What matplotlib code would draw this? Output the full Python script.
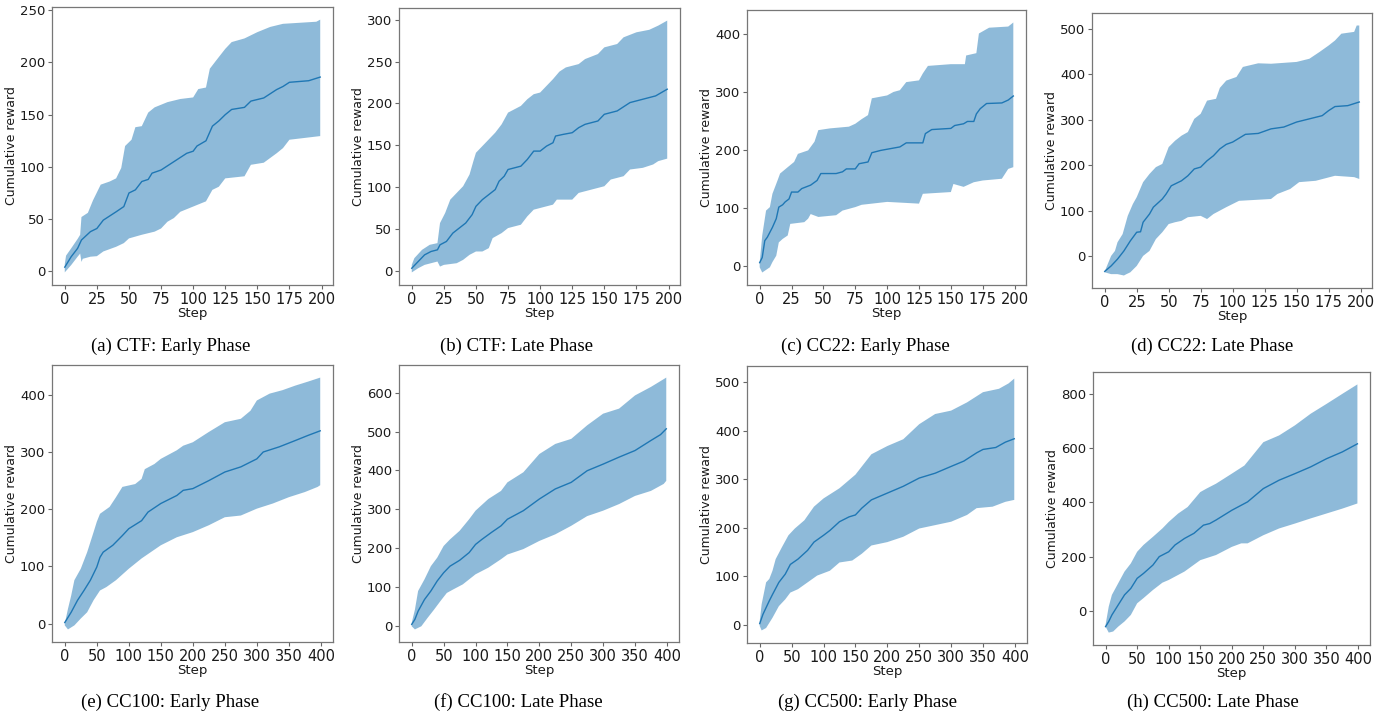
import numpy as np
import matplotlib
matplotlib.use("Agg")
import matplotlib.pyplot as plt
from matplotlib.ticker import MultipleLocator

W, H = 1383, 715

# ---- (a) CTF: Early Phase
a_mean_x = [0, 5, 10, 13, 20, 25, 30, 40, 46, 50, 55, 60, 65, 68, 75, 85, 95, 100, 103, 110, 115, 120, 125, 130, 140, 145, 155, 160, 165, 170, 175, 190, 199]
a_mean_y = [4, 14, 22, 30, 38, 41, 49, 57, 62, 75, 78, 86, 88, 94, 97, 105, 113, 115, 120, 125, 139, 144, 150, 155, 157, 163, 166, 170, 174, 177, 181, 182.5, 186]
a_up_x = [0, 1, 5, 10, 12, 13, 18, 22, 28, 35, 40, 44, 47, 52, 55, 60, 65, 70, 80, 90, 100, 104, 110, 113, 118, 125, 130, 140, 150, 160, 170, 196, 199]
a_up_y = [7, 15, 22, 31, 35, 52, 56, 68, 83, 86, 89, 99, 120, 126, 138, 139, 152, 157, 162, 165, 166.5, 174.5, 176, 194, 202, 213, 219.5, 223, 229, 234, 237, 239, 241]
a_lo_x = [0, 5, 10, 12, 13, 14, 20, 25, 30, 40, 46, 50, 60, 70, 75, 80, 85, 90, 100, 110, 115, 120, 125, 140, 145, 155, 165, 170, 175, 199]
a_lo_y = [-1, 6, 14, 17, 9, 12, 14, 14.5, 19, 23.5, 27, 31.5, 35, 38, 41, 47.5, 51, 57, 62, 67, 78, 81, 89, 91, 102, 104, 113, 118, 126, 129.5]

# ---- (b) CTF: Late Phase
b_mean_x = [0, 5, 10, 15, 20, 22, 27, 32, 37, 42, 47, 50, 55, 60, 65, 68, 72, 75, 85, 90, 95, 100, 105, 110, 112, 118, 125, 130, 135, 145, 150, 160, 170, 180, 190, 199]
b_mean_y = [3, 11, 19, 23, 25, 31, 35, 45, 51, 57, 67, 77, 85, 91, 97, 107, 113, 121, 125, 133, 143, 143, 149, 153, 161, 163, 165, 171, 175, 179, 187, 191, 201, 205, 209, 217]
b_up_x = [0, 2, 8, 14, 20, 22, 26, 30, 35, 40, 45, 48, 50, 55, 60, 65, 70, 75, 80, 85, 90, 95, 100, 105, 110, 115, 120, 130, 135, 145, 150, 160, 165, 175, 185, 192, 199]
b_up_y = [7, 15, 25, 31, 33, 57, 69, 85, 93, 101, 115, 131, 141, 149, 157, 165, 175, 189, 193, 197, 205, 211, 213, 221, 229, 238, 243, 247, 253, 259, 267, 271, 279, 285, 288, 293, 299]
b_lo_x = [0, 5, 10, 20, 22, 25, 35, 40, 45, 50, 55, 60, 63, 70, 75, 85, 90, 95, 105, 110, 113, 125, 130, 140, 150, 155, 165, 170, 180, 188, 192, 199]
b_lo_y = [-2, 3, 7, 11, 5, 7, 9, 13, 19, 23, 23, 27, 39, 45, 51, 55, 65, 73, 77, 79, 85, 85, 93, 97, 101, 109, 113, 121, 123, 127, 131, 134]

# ---- (c) CC22: Early Phase
c_mean_x = [0, 2, 4, 6, 10, 13, 15, 18, 20, 23, 25, 30, 33, 40, 45, 48, 60, 65, 68, 75, 78, 85, 88, 95, 100, 110, 115, 128, 130, 135, 150, 153, 160, 163, 168, 170, 173, 178, 190, 195, 199]
c_mean_y = [5, 14, 43, 49, 66, 81, 101, 105, 110, 115, 127, 127, 133, 139, 147, 159, 159, 162, 167, 167, 176, 179, 195, 199, 201, 205, 212, 212, 228, 235, 237, 242, 245, 249, 249, 262, 271, 280, 281, 286, 293]
c_up_x = [0, 2, 5, 8, 10, 14, 16, 22, 27, 30, 38, 43, 46, 55, 70, 75, 80, 85, 88, 100, 105, 110, 115, 125, 128, 132, 150, 161, 162, 170, 172, 180, 195, 199]
c_up_y = [5, 52, 95, 101, 124, 147, 159, 170, 179, 193, 199, 214, 234, 237, 240, 245, 253, 260, 289, 294, 300, 303, 317, 320, 332, 345, 348, 348, 363, 367, 401, 411, 413, 420]
c_lo_x = [0, 2, 8, 10, 13, 15, 18, 22, 24, 35, 38, 40, 46, 60, 65, 75, 80, 100, 125, 128, 150, 152, 160, 168, 175, 190, 195, 199]
c_lo_y = [-3, -12, -3, 6, 17, 40, 46, 52, 72, 75, 81, 89, 84, 87, 95, 101, 105, 110, 107, 124, 127, 141, 136, 144, 147, 150, 167, 170]

# ---- (d) CC22: Late Phase
d_mean_x = [0, 5, 10, 15, 20, 25, 28, 30, 35, 38, 45, 48, 52, 60, 65, 70, 75, 80, 85, 90, 95, 100, 110, 120, 130, 140, 150, 160, 170, 175, 180, 190, 199]
d_mean_y = [-33, -21, -6, 12, 34, 53, 54, 75, 93, 108, 126, 137, 155, 166, 177, 192, 196, 210, 221, 236, 246, 251, 268, 270, 280, 284, 295, 302, 309, 320, 329, 331, 339]
d_up_x = [0, 5, 8, 10, 14, 18, 22, 25, 30, 35, 40, 45, 50, 55, 60, 65, 70, 75, 80, 87, 90, 95, 103, 108, 120, 130, 150, 160, 168, 175, 180, 185, 195, 197, 199]
d_up_y = [-33, 1, 12, 31, 49, 89, 115, 130, 163, 181, 196, 203, 240, 254, 265, 273, 302, 313, 342, 346, 370, 386, 394, 416, 424, 423, 427, 434, 449, 463, 474, 489, 493, 507, 507]
d_lo_x = [0, 5, 10, 15, 17, 20, 25, 30, 35, 40, 45, 50, 55, 60, 65, 75, 80, 85, 95, 105, 130, 135, 145, 152, 165, 180, 195, 199]
d_lo_y = [-35, -39, -39, -42, -39, -35, -21, 1, 12, 38, 53, 71, 75, 78, 86, 89, 82, 93, 108, 122, 126, 137, 148, 163, 166, 177, 174, 170]

# ---- (e) CC100: Early Phase
e_mean_x = [0, 10, 20, 30, 40, 50, 55, 60, 75, 90, 100, 120, 130, 150, 175, 185, 200, 225, 250, 275, 300, 310, 335, 360, 380, 399]
e_mean_y = [2, 20, 41, 58, 76, 99, 116, 125, 137, 154, 166, 180, 195, 210, 224, 233, 236, 250, 265, 274, 288, 300, 309, 320, 329, 337]
e_up_x = [0, 5, 10, 15, 25, 35, 45, 50, 55, 70, 80, 90, 110, 120, 125, 140, 150, 175, 185, 200, 225, 250, 275, 290, 300, 320, 340, 360, 380, 399]
e_up_y = [0, 26, 49, 76, 96, 125, 160, 178, 192, 204, 221, 239, 244, 253, 270, 279, 288, 303, 311, 317, 335, 352, 358, 372, 390, 402, 408, 416, 423, 430]
e_lo_x = [0, 5, 15, 25, 35, 45, 55, 65, 80, 100, 120, 150, 175, 200, 225, 250, 275, 300, 325, 350, 375, 395, 399]
e_lo_y = [-3, -10, -3, 9, 20, 41, 58, 64, 76, 96, 114, 137, 151, 160, 172, 186, 189, 201, 210, 221, 230, 239, 242]

# ---- (f) CC100: Late Phase
f_mean_x = [0, 5, 10, 20, 30, 40, 50, 60, 75, 90, 100, 110, 125, 140, 150, 175, 200, 225, 250, 275, 300, 325, 350, 375, 390, 399]
f_mean_y = [3, 16, 37, 67, 89, 115, 136, 153, 168, 188, 209, 222, 240, 257, 274, 296, 326, 352, 369, 399, 416, 434, 451, 477, 492, 507]
f_up_x = [0, 5, 10, 20, 30, 40, 50, 60, 75, 90, 100, 120, 140, 150, 175, 200, 225, 250, 275, 300, 325, 350, 375, 399]
f_up_y = [7, 41, 89, 119, 153, 175, 205, 222, 244, 274, 296, 326, 347, 369, 395, 442, 468, 481, 516, 546, 559, 593, 615, 639]
f_lo_x = [0, 5, 15, 25, 35, 45, 55, 65, 80, 100, 120, 140, 150, 175, 200, 225, 250, 275, 300, 325, 350, 375, 395, 399]
f_lo_y = [-2, -10, -2, 20, 41, 63, 84, 93, 106, 132, 149, 171, 183, 197, 218, 235, 257, 282, 296, 313, 334, 347, 365, 373]

# ---- (g) CC500: Early Phase
g_mean_x = [0, 5, 10, 15, 20, 30, 40, 48, 60, 75, 85, 100, 110, 125, 140, 150, 160, 175, 200, 225, 250, 275, 300, 320, 340, 350, 370, 385, 399]
g_mean_y = [2, 21, 35, 49, 62, 87, 104, 124, 135, 153, 170, 184, 194, 212, 222, 226, 240, 257, 271, 285, 302, 312, 326, 337, 354, 361, 365, 376, 383]
g_up_x = [0, 3, 10, 15, 20, 25, 35, 45, 55, 70, 85, 100, 125, 150, 175, 200, 225, 250, 275, 300, 325, 350, 375, 390, 399]
g_up_y = [7, 42, 87, 94, 111, 135, 160, 184, 198, 215, 243, 260, 281, 309, 351, 368, 382, 413, 434, 441, 458, 479, 486, 497, 507]
g_lo_x = [0, 3, 10, 20, 30, 40, 48, 60, 75, 90, 110, 125, 145, 160, 175, 200, 225, 250, 275, 300, 325, 340, 365, 385, 399]
g_lo_y = [-3, -12, -7, 14, 38, 52, 66, 73, 87, 101, 111, 128, 132, 146, 163, 170, 181, 198, 205, 212, 226, 240, 243, 253, 257]

# ---- (h) CC500: Late Phase
h_mean_x = [0, 5, 10, 20, 30, 40, 50, 60, 75, 85, 100, 110, 125, 140, 155, 165, 175, 200, 225, 250, 275, 300, 325, 350, 375, 399]
h_mean_y = [-58, -39, -15, 22, 59, 83, 120, 138, 169, 200, 218, 243, 267, 286, 316, 322, 335, 371, 402, 451, 482, 506, 531, 561, 586, 616]
h_up_x = [0, 5, 10, 20, 30, 40, 50, 60, 75, 90, 100, 115, 130, 150, 160, 175, 200, 220, 235, 250, 275, 300, 325, 350, 375, 399]
h_up_y = [-51, 16, 59, 102, 145, 175, 218, 243, 273, 304, 328, 359, 383, 438, 451, 469, 506, 536, 579, 622, 647, 684, 727, 763, 800, 835]
h_lo_x = [0, 5, 12, 20, 30, 40, 50, 60, 75, 90, 100, 125, 150, 175, 200, 215, 225, 250, 275, 300, 325, 350, 375, 399]
h_lo_y = [-58, -80, -76, -58, -39, -15, 28, 47, 77, 104, 114, 145, 187, 206, 236, 249, 249, 279, 304, 322, 341, 359, 377, 396]

captions = ["(a) CTF: Early Phase", "(b) CTF: Late Phase", "(c) CC22: Early Phase", "(d) CC22: Late Phase",
            "(e) CC100: Early Phase", "(f) CC100: Late Phase", "(g) CC500: Early Phase", "(h) CC500: Late Phase"]
x_steps = [25, 25, 25, 25, 50, 50, 50, 50]

panels = [
    (a_mean_x, a_mean_y, a_up_x, a_up_y, a_lo_x, a_lo_y),
    (b_mean_x, b_mean_y, b_up_x, b_up_y, b_lo_x, b_lo_y),
    (c_mean_x, c_mean_y, c_up_x, c_up_y, c_lo_x, c_lo_y),
    (d_mean_x, d_mean_y, d_up_x, d_up_y, d_lo_x, d_lo_y),
    (e_mean_x, e_mean_y, e_up_x, e_up_y, e_lo_x, e_lo_y),
    (f_mean_x, f_mean_y, f_up_x, f_up_y, f_lo_x, f_lo_y),
    (g_mean_x, g_mean_y, g_up_x, g_up_y, g_lo_x, g_lo_y),
    (h_mean_x, h_mean_y, h_up_x, h_up_y, h_lo_x, h_lo_y),
]

# axes boxes in pixels: left, right, top, bottom
boxes = [(52, 333, 7, 285), (399, 680, 8, 285), (747, 1026, 10, 285), (1092, 1372, 13, 288),
         (52, 333, 365, 642), (399, 679, 365, 642), (747, 1027, 366, 643), (1093, 1370, 372, 645)]
cap_pos = [(171, 346), (517, 346), (865, 346), (1212, 346),
           (170, 702), (518, 702), (867, 702), (1213, 702)]

fig = plt.figure(figsize=(W / 100, H / 100), dpi=100)
blue = "#1f77b4"

for i, (mx, my, ux, uy, lx, ly) in enumerate(panels):
    l, r, t, b = boxes[i]
    ax = fig.add_axes([l / W, 1 - b / H, (r - l) / W, (b - t) / H])
    ax.fill(np.r_[ux, lx[::-1]], np.r_[uy, ly[::-1]], color=blue, alpha=0.5, lw=0)
    ax.plot(mx, my, color=blue, lw=1.0)
    ax.margins(x=0.05, y=0.05)
    ax.xaxis.set_major_locator(MultipleLocator(x_steps[i]))
    ax.set_xlabel("Step", fontsize=9.5, labelpad=0, color="#1a1a1a")
    ax.set_ylabel("Cumulative reward", fontsize=9, labelpad=1, color="#1a1a1a")
    ax.tick_params(length=3, width=0.8, colors="#666666", labelcolor="#1a1a1a", pad=2)
    ax.tick_params(axis="x", labelsize=10.5)
    ax.tick_params(axis="y", labelsize=9.5)
    for s in ax.spines.values():
        s.set_color("#777777")
        s.set_linewidth(0.9)
    cx, cy = cap_pos[i]
    fig.text(cx / W, 1 - cy / H, captions[i], ha="center", va="center",
             fontsize=13.5, family="Liberation Serif")

fig.savefig("out.png", dpi=100)
